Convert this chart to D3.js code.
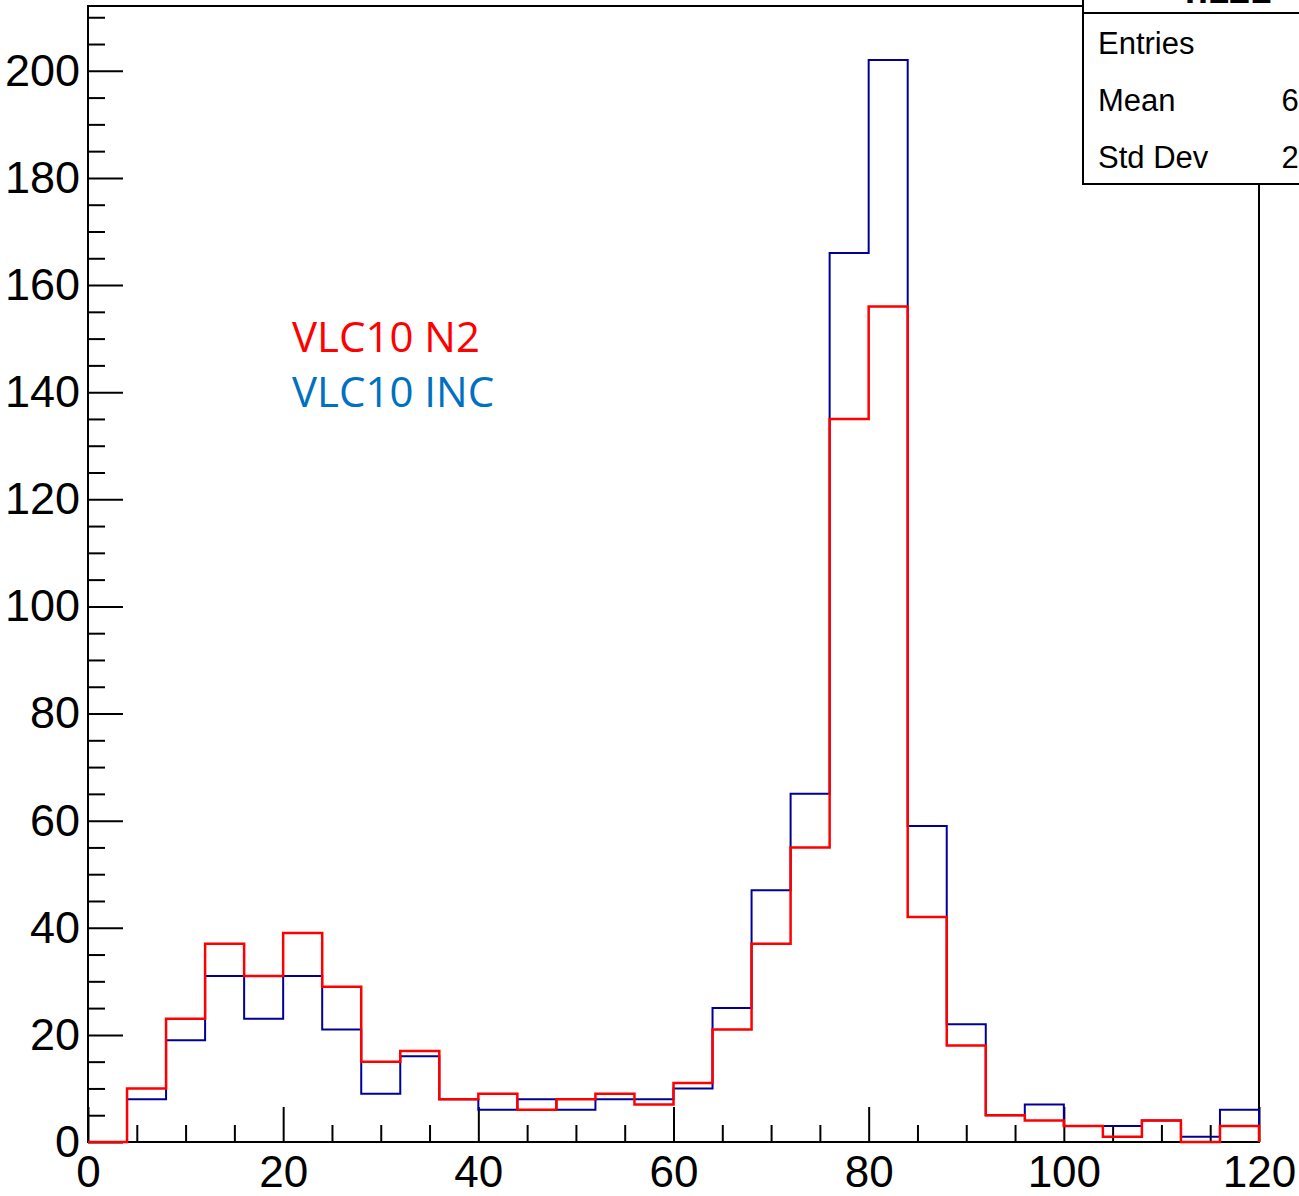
<!DOCTYPE html>
<html>
<head>
<meta charset="utf-8">
<script src="https://cdn.jsdelivr.net/npm/d3@7"></script>
<style>
  html, body { margin: 0; padding: 0; background: #fff; }
  svg { display: block; }
  .tick text { font-family: "Liberation Sans", Arial, Helvetica, sans-serif; }
</style>
</head>
<body>
<svg id="chart" width="1299" height="1196"></svg>
<script>
// Histogram binning: 30 bins of width 4 from 0 to 120
const binEdges = d3.range(0, 121, 4);

// Bin contents
const countsINC = [0, 8, 19, 31, 23, 31, 21, 9, 16, 8, 6, 8, 6, 8, 8, 10, 25, 47, 65, 166, 202, 59, 22, 5, 7, 3, 3, 4, 1, 6];
const countsN2  = [0, 10, 23, 37, 31, 39, 29, 15, 17, 8, 9, 6, 8, 9, 7, 11, 21, 37, 55, 135, 156, 42, 18, 5, 4, 3, 1, 4, 0, 3];

// Axis ticks
const xMajorTicks = [0, 20, 40, 60, 80, 100, 120];
const yMajorTicks = [0, 20, 40, 60, 80, 100, 120, 140, 160, 180, 200];

// Statistics panel
const histTitle = "h121";
const statLabels = ["Entries", "Mean", "Std Dev"];
const statValues = ["827", "66.78", "27.10"];

// Legend
const legendLabels = ["VLC10 N2", "VLC10 INC"];

const svg = d3.select("#chart");

const x = d3.scaleLinear().domain([0, 120]).range([88, 1259]);
const yMax = 1.05 * d3.max(countsINC);
const y = d3.scaleLinear().domain([0, yMax]).range([1142, 6]);

const xMinor = d3.range(0, 121, 5).filter(v => !xMajorTicks.includes(v));
const yMinor = d3.range(0, yMax, 5).filter(v => !yMajorTicks.includes(v));

const font = '"Liberation Sans", Arial, Helvetica, sans-serif';

// Minor ticks
svg.append("g")
  .attr("transform", `translate(0,${y(0)})`)
  .call(d3.axisBottom(x).tickValues(xMinor).tickSize(-17).tickFormat(""))
  .call(g => g.select(".domain").remove())
  .call(g => g.selectAll("line").attr("stroke", "#000").attr("stroke-width", 2));

svg.append("g")
  .attr("transform", `translate(${x(0)},0)`)
  .call(d3.axisLeft(y).tickValues(yMinor).tickSize(-17).tickFormat(""))
  .call(g => g.select(".domain").remove())
  .call(g => g.selectAll("line").attr("stroke", "#000").attr("stroke-width", 2));

// Major ticks with labels
svg.append("g")
  .attr("transform", `translate(0,${y(0)})`)
  .call(d3.axisBottom(x).tickValues(xMajorTicks).tickSize(-35).tickPadding(14).tickFormat(d3.format("d")))
  .call(g => g.select(".domain").remove())
  .call(g => g.selectAll("line").attr("stroke", "#000").attr("stroke-width", 2))
  .call(g => g.selectAll("text").attr("fill", "#000").style("font-size", "44px").style("font-family", font));

svg.append("g")
  .attr("transform", `translate(${x(0)},0)`)
  .call(d3.axisLeft(y).tickValues(yMajorTicks).tickSize(-35).tickPadding(8).tickFormat(d3.format("d")))
  .call(g => g.select(".domain").remove())
  .call(g => g.selectAll("line").attr("stroke", "#000").attr("stroke-width", 2))
  .call(g => g.selectAll("text").attr("fill", "#000").style("font-size", "45px").style("font-family", font));

// Frame
svg.append("rect")
  .attr("x", x(0)).attr("y", y(yMax))
  .attr("width", x(120) - x(0)).attr("height", y(0) - y(yMax))
  .attr("fill", "none").attr("stroke", "#000").attr("stroke-width", 2);

// Step outline of a histogram
function stepPath(counts) {
  const p = d3.path();
  p.moveTo(x(binEdges[0]), y(0));
  counts.forEach((c, i) => {
    p.lineTo(x(binEdges[i]), y(c));
    p.lineTo(x(binEdges[i + 1]), y(c));
  });
  p.lineTo(x(binEdges[binEdges.length - 1]), y(0));
  return p.toString();
}

svg.append("path")
  .attr("d", stepPath(countsINC))
  .attr("fill", "none").attr("stroke", "#000099").attr("stroke-width", 2);

svg.append("path")
  .attr("d", stepPath(countsN2))
  .attr("fill", "none").attr("stroke", "#ff0000").attr("stroke-width", 2.5);

// Legend text
const legendColors = ["#ff0000", "#0070c0"];
svg.selectAll("text.legend")
  .data(legendLabels)
  .join("text")
  .attr("class", "legend")
  .attr("x", 292)
  .attr("y", (d, i) => 352 + i * 55)
  .attr("fill", (d, i) => legendColors[i])
  .style("font-family", '"Open Sans", "Noto Sans", sans-serif')
  .style("font-size", "42px")
  .text(d => d);

// Statistics box for the INC histogram
const stats = svg.append("g");
stats.append("rect")
  .attr("x", 1083).attr("y", -60).attr("width", 400).attr("height", 73)
  .attr("fill", "#fff").attr("stroke", "#000").attr("stroke-width", 2);
stats.append("text")
  .attr("x", 1228).attr("y", 3)
  .attr("text-anchor", "middle")
  .style("font-family", font).style("font-weight", "bold").style("font-size", "38px")
  .text(histTitle);
stats.append("rect")
  .attr("x", 1083).attr("y", 13).attr("width", 400).attr("height", 171)
  .attr("fill", "#fff").attr("stroke", "#000").attr("stroke-width", 2);
stats.selectAll("text.label")
  .data(statLabels)
  .join("text")
  .attr("class", "label")
  .attr("x", 1098)
  .attr("y", (d, i) => 54 + i * 57)
  .style("font-family", font).style("font-size", "31px")
  .text(d => d);
stats.selectAll("text.value")
  .data(statValues)
  .join("text")
  .attr("class", "value")
  .attr("x", 1359)
  .attr("y", (d, i) => 54 + i * 57)
  .attr("text-anchor", "end")
  .style("font-family", font).style("font-size", "31px")
  .text(d => d);
</script>
</body>
</html>
